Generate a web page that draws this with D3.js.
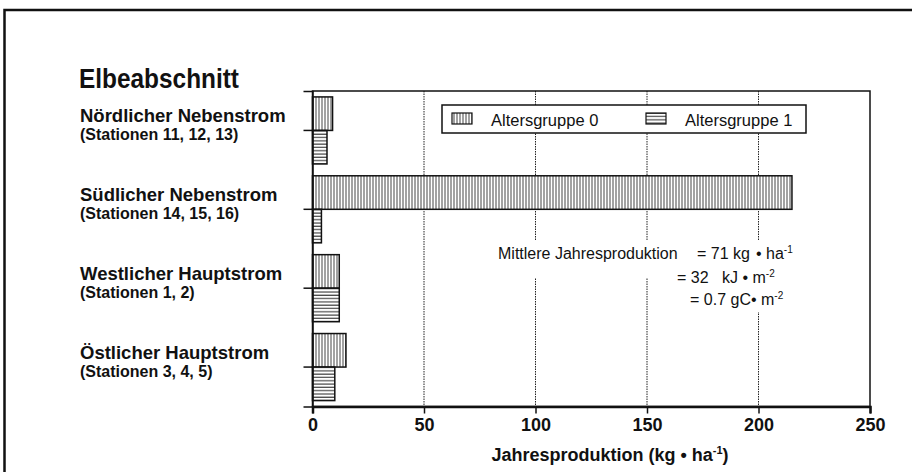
<!DOCTYPE html>
<html>
<head>
<meta charset="utf-8">
<script src="https://cdn.jsdelivr.net/npm/d3@7"></script>
<style>
  body { margin: 0; background: #fff; }
  text { font-family: 'Liberation Sans', Arial, sans-serif; fill: #111; }
</style>
</head>
<body>
<div id="chart"></div>
<script>
// data
const categories = ['Nördlicher Nebenstrom', 'Südlicher Nebenstrom', 'Westlicher Hauptstrom', 'Östlicher Hauptstrom']
const stations = ['(Stationen 11, 12, 13)', '(Stationen 14, 15, 16)', '(Stationen 1, 2)', '(Stationen 3, 4, 5)']
const groups = ['Altersgruppe 0', 'Altersgruppe 1']
const group0 = [9, 215, 12, 15]
const group1 = [6.5, 4, 12, 10]
const xTicks = [0, 50, 100, 150, 200, 250]

const width = 912
const height = 472
const plot = { left: 312.5, right: 870, top: 91, bottom: 406.5 }

const svg = d3.select('#chart').append('svg')
  .attr('width', width)
  .attr('height', height)

svg.append('rect').attr('width', width).attr('height', height).attr('fill', '#fff')

// hatch patterns
const defs = svg.append('defs')
defs.append('pattern')
  .attr('id', 'vhatch')
  .attr('patternUnits', 'userSpaceOnUse')
  .attr('width', 3).attr('height', 3)
  .call(p => {
    p.append('rect').attr('width', 3).attr('height', 3).attr('fill', '#fff')
    p.append('line').attr('x1', 1).attr('x2', 1).attr('y1', 0).attr('y2', 3)
      .attr('stroke', '#555').attr('stroke-width', 1.1)
  })
defs.append('pattern')
  .attr('id', 'hhatch')
  .attr('patternUnits', 'userSpaceOnUse')
  .attr('width', 3).attr('height', 3.3)
  .call(p => {
    p.append('rect').attr('width', 3).attr('height', 3.3).attr('fill', '#fff')
    p.append('line').attr('x1', 0).attr('x2', 3).attr('y1', 1).attr('y2', 1)
      .attr('stroke', '#333').attr('stroke-width', 1.1)
  })
const fills = ['url(#vhatch)', 'url(#hhatch)']

// outer frame (only left and top edges visible)
svg.append('rect')
  .attr('x', 4.5).attr('y', 10)
  .attr('width', 1000).attr('height', 1000)
  .attr('fill', 'none').attr('stroke', '#111').attr('stroke-width', 2.5)

// scales
const x = d3.scaleLinear().domain([0, 250]).range([plot.left, plot.right])
const y = d3.scaleBand().domain(categories).range([plot.top, plot.bottom])
  .paddingInner(0.15).paddingOuter(0.075)
const ySub = d3.scaleBand().domain(groups).range([0, y.bandwidth()])

// grid lines
svg.append('g')
  .selectAll('line')
  .data(xTicks.slice(1, -1))
  .join('line')
  .attr('x1', d => x(d)).attr('x2', d => x(d))
  .attr('y1', plot.top).attr('y2', plot.bottom)
  .attr('stroke', '#222').attr('stroke-width', 1)
  .attr('stroke-dasharray', '1.5,1')

// annotation with white background
const note = svg.append('g')
note.append('rect').attr('x', 494).attr('y', 241).attr('width', 306).attr('height', 37).attr('fill', '#fff')
note.append('rect').attr('x', 673).attr('y', 262).attr('width', 127).attr('height', 50).attr('fill', '#fff')
const noteStyle = t => t.style('font-size', '16px')
const l1 = note.append('text').attr('y', 259).call(noteStyle)
l1.append('tspan').attr('x', 498).text('Mittlere Jahresproduktion')
l1.append('tspan').attr('x', 697).text('= 71 kg')
l1.append('tspan').attr('x', 756).text('• ha')
l1.append('tspan').attr('dy', -6).style('font-size', '10px').text('-1')
const l2 = note.append('text').attr('y', 283).call(noteStyle)
l2.append('tspan').attr('x', 677).text('= 32')
l2.append('tspan').attr('x', 722).text('kJ • m')
l2.append('tspan').attr('dy', -6).style('font-size', '10px').text('-2')
const l3 = note.append('text').attr('y', 305).call(noteStyle)
l3.append('tspan').attr('x', 690).text('= 0.7 gC• m')
l3.append('tspan').attr('dy', -6).style('font-size', '10px').text('-2')

// bars
const rows = categories.map((c, i) => ({ cat: c, vals: [group0[i], group1[i]] }))
svg.append('g')
  .selectAll('g')
  .data(rows)
  .join('g')
  .attr('transform', d => 'translate(0,' + y(d.cat) + ')')
  .selectAll('rect')
  .data(d => d.vals.map((v, j) => ({ v, g: groups[j], j })))
  .join('rect')
  .attr('x', x(0))
  .attr('y', d => ySub(d.g))
  .attr('width', d => x(d.v) - x(0))
  .attr('height', ySub.bandwidth())
  .attr('fill', d => fills[d.j])
  .attr('stroke', '#111')
  .attr('stroke-width', 1.5)

// plot frame
svg.append('rect')
  .attr('x', plot.left).attr('y', plot.top)
  .attr('width', plot.right - plot.left).attr('height', plot.bottom - plot.top)
  .attr('fill', 'none').attr('stroke', '#111').attr('stroke-width', 1.5)

// legend
const legend = svg.append('g')
legend.append('rect')
  .attr('x', 442).attr('y', 105).attr('width', 364).attr('height', 28)
  .attr('fill', '#fff').attr('stroke', '#111').attr('stroke-width', 1.5)
const legendX = [452, 646]
groups.forEach((g, i) => {
  legend.append('rect')
    .attr('x', legendX[i]).attr('y', 113).attr('width', 20).attr('height', 11)
    .attr('fill', fills[i]).attr('stroke', '#111').attr('stroke-width', 1.2)
  legend.append('text')
    .attr('x', legendX[i] + 39).attr('y', 126)
    .style('font-size', '16.5px')
    .text(g)
})

// x axis
const xAxis = svg.append('g')
  .attr('transform', 'translate(0,' + plot.bottom + ')')
  .call(d3.axisBottom(x).tickValues(xTicks).tickSize(7).tickPadding(5))
xAxis.select('.domain').attr('stroke', '#111').attr('stroke-width', 2.5)
xAxis.selectAll('.tick line').attr('stroke', '#111').attr('stroke-width', 1.5)
xAxis.selectAll('.tick text')
  .style('font-family', "'Liberation Sans', Arial, sans-serif")
  .style('font-size', '18px').style('font-weight', 'bold').attr('fill', '#111')

// y axis ticks
const yAxis = svg.append('g')
  .attr('transform', 'translate(' + plot.left + ',0)')
  .call(d3.axisLeft(y).tickSize(9).tickFormat(''))
yAxis.select('.domain').attr('stroke', '#111').attr('stroke-width', 1.5)
yAxis.selectAll('.tick line').attr('stroke', '#111').attr('stroke-width', 1.5)

// category labels
const labels = svg.append('g')
categories.forEach((c, i) => {
  const cy = y(c) + y.bandwidth() / 2
  labels.append('text').attr('x', 80).attr('y', cy - 8)
    .style('font-size', '18.5px').style('font-weight', 'bold').text(c)
  labels.append('text').attr('x', 80).attr('y', cy + 10)
    .style('font-size', '16px').style('font-weight', 'bold').text(stations[i])
})

// title
svg.append('text')
  .attr('x', 79).attr('y', 88)
  .attr('textLength', 160).attr('lengthAdjust', 'spacingAndGlyphs')
  .style('font-size', '27px').style('font-weight', 'bold')
  .text('Elbeabschnitt')

// axis title
const at = svg.append('text')
  .attr('x', 610).attr('y', 461)
  .attr('text-anchor', 'middle')
  .style('font-size', '18px').style('font-weight', 'bold')
at.append('tspan').text('Jahresproduktion (kg • ha')
at.append('tspan').attr('dy', -7).style('font-size', '11px').text('-1')
at.append('tspan').attr('dy', 7).text(')')
</script>
</body>
</html>
